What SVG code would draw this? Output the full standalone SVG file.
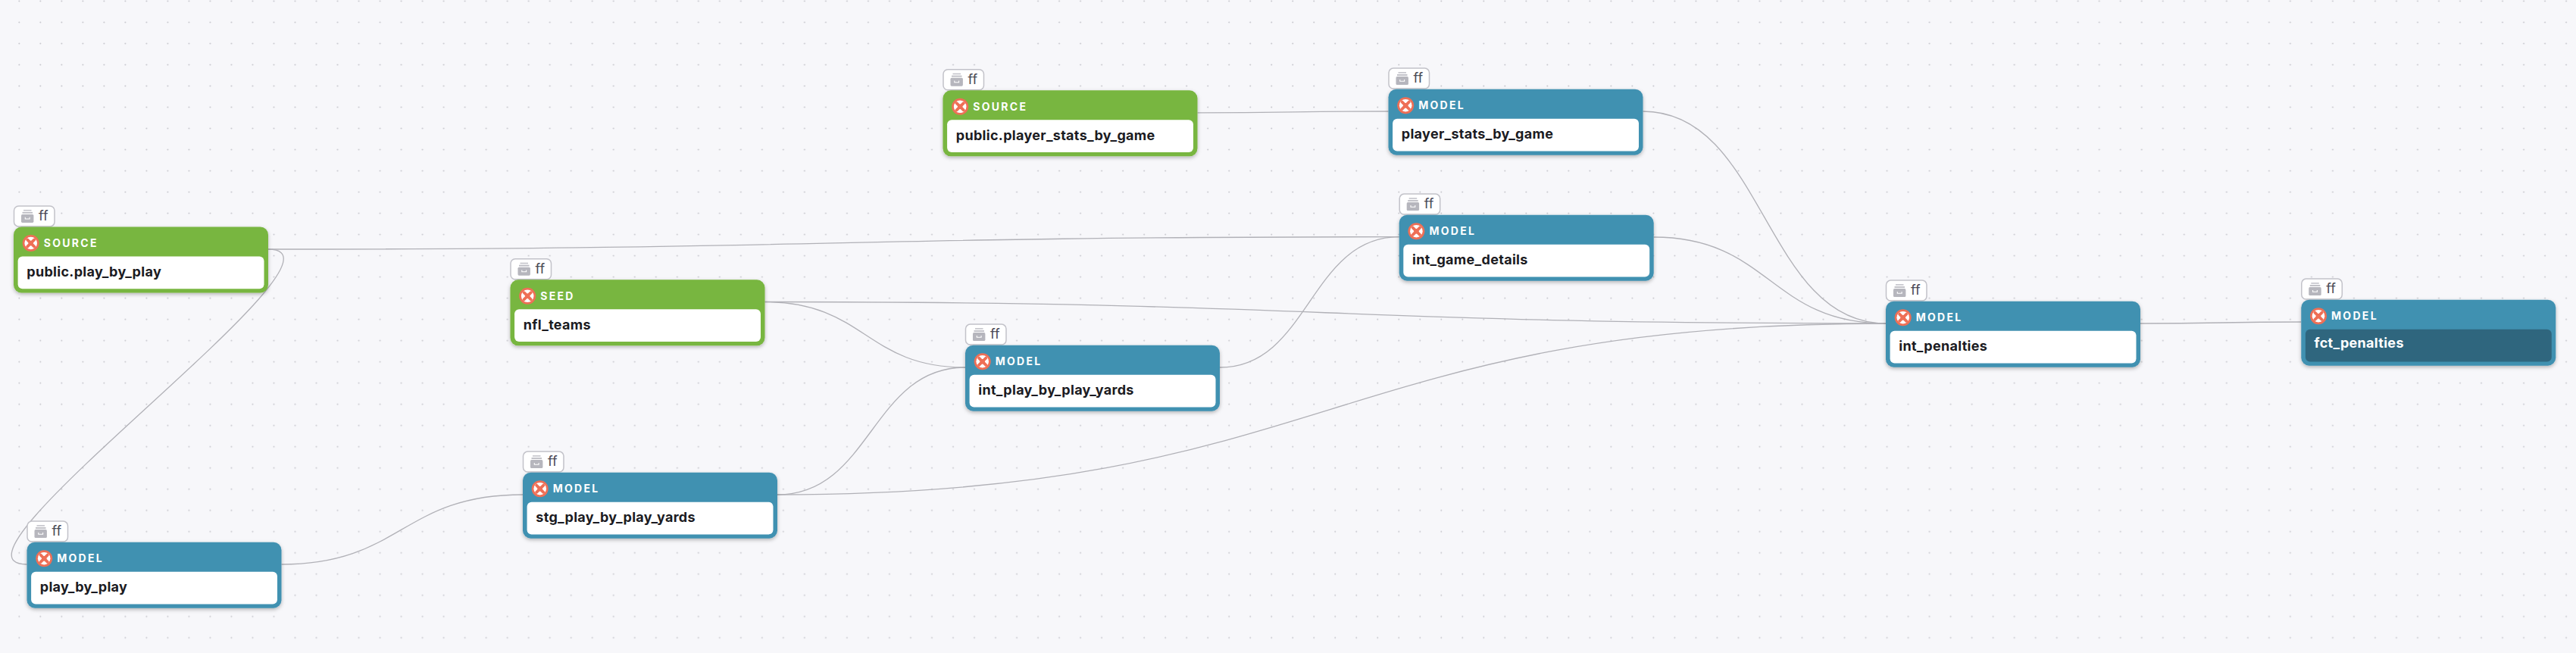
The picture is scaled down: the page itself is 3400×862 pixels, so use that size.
<svg xmlns="http://www.w3.org/2000/svg" width="3400" height="862" viewBox="0 0 3400 862">
<style>
.bg{fill:#f7f7fa}
.dot{fill:#c6c6cc}
.edge{fill:none;stroke:#b1b1b7;stroke-width:1.3}
.tag{fill:#fff;stroke:#c2c2c9;stroke-width:1.5}
.tagtxt{font:400 18px Inter,"Liberation Sans",sans-serif;fill:#4a4a55}
.body{filter:url(#sh)}
.source{fill:#78b63f}
.model{fill:#4191b1}
.inner{fill:var(--inner,#fff)}
.kind{font:700 14px Inter,"Liberation Sans",sans-serif;letter-spacing:2.3px;fill:#fff}
.title{font:700 18px Inter,"Liberation Sans",sans-serif;letter-spacing:.3px;fill:#1b1b22}
.selected{--inner:#2f667e}
.selected .title{fill:#fff}
</style>
<defs>
<pattern id="dots" width="28.014" height="28.014" patternUnits="userSpaceOnUse"><circle class="dot" cx="25.4" cy="1.4" r="1"/></pattern>
<filter id="sh" x="-5%" y="-10%" width="110%" height="125%"><feDropShadow dx="0" dy="2" stdDeviation="2.5" flood-color="#000" flood-opacity=".28"/></filter>
<g id="status">
<circle r="11" fill="#ee6f56"/><circle r="8.3" fill="#fff"/>
<path d="M-4.6-4.6L4.6 4.6M4.6-4.6L-4.6 4.6" stroke="#ee6f56" stroke-width="3.8" stroke-linecap="round"/>
<circle r="3.2" fill="#ee6f56"/>
</g>
<g id="tagicon" fill="#b6b6bd">
<rect x="3" y="0" width="10.5" height="1.6" fill="#c4c4ca"/>
<rect x="1.5" y="3" width="13.5" height="1.8" fill="#bcbcc3"/>
<rect x="0" y="6" width="16.4" height="11" rx="1.6"/>
<path d="M5.3 9.8v2.3h5.8V9.8" fill="none" stroke="#fff" stroke-width="1.1"/>
</g>
<g id="tagbox">
<rect class="tag" x="0.5" y="-27.6" width="53.5" height="27" rx="6"/>
<use href="#tagicon" x="10" y="-22.6"/>
<text class="tagtxt" x="33" y="-8.6">ff</text>
</g>
<g id="frame">
<use href="#tagbox"/>
<rect class="body" width="336" height="87" rx="10.5"/>
<rect class="inner" x="5.6" y="39" width="324.9" height="42.7" rx="6"/>
<use href="#status" x="22.7" y="21.5"/>
</g>
</defs>
<rect class="bg" width="3400" height="862"/>
<rect fill="url(#dots)" width="3400" height="862"/>
<g id="connectors">
<path class="edge" d="M354 329C1100 329 1100 312.7 1846.7 312.7"/>
<path class="edge" d="M354 329C489 329 -99.5 745 35.5 745"/>
<path class="edge" d="M371.5 745C530 745 530 653 690 653"/>
<path class="edge" d="M1026 653C1150 653 1150 485 1274 485"/>
<path class="edge" d="M1026 653C1757 653 1757 427 2489 427"/>
<path class="edge" d="M1009.5 398.5C1142 398.5 1142 485 1274 485"/>
<path class="edge" d="M1009.5 398.5C1749 398.5 1749 427 2489 427"/>
<path class="edge" d="M1610 485C1728 485 1728 312.7 1846.7 312.7"/>
<path class="edge" d="M1580.5 148.8C1706 148.8 1706 147 1832.5 147"/>
<path class="edge" d="M2168.5 147C2329 147 2329 427 2489 427"/>
<path class="edge" d="M2182.7 313C2336 313 2336 427 2489 427"/>
<path class="edge" d="M2825 427C2931 427 2931 425 3037.3 425"/>
</g>
<g id="node-source-play_by_play" class="source" transform="translate(18 299.5)"><use href="#frame"/><text class="kind" x="39.7" y="26.5">SOURCE</text><text class="title" x="17.3" y="65.5">public.play_by_play</text></g>
<g id="node-seed-nfl_teams" class="source" transform="translate(673.5 369.3)"><use href="#frame"/><text class="kind" x="39.7" y="26.5">SEED</text><text class="title" x="17.3" y="65.5">nfl_teams</text></g>
<g id="node-source-player_stats_by_game" class="source" transform="translate(1244.5 119.3)"><use href="#frame"/><text class="kind" x="39.7" y="26.5">SOURCE</text><text class="title" x="17.3" y="65.5">public.player_stats_by_game</text></g>
<g id="node-player_stats_by_game" class="model" transform="translate(1832.5 117.7)"><use href="#frame"/><text class="kind" x="39.7" y="26.5">MODEL</text><text class="title" x="17.3" y="65.5">player_stats_by_game</text></g>
<g id="node-int_game_details" class="model" transform="translate(1846.7 283.7)"><use href="#frame"/><text class="kind" x="39.7" y="26.5">MODEL</text><text class="title" x="17.3" y="65.5">int_game_details</text></g>
<g id="node-int_play_by_play_yards" class="model" transform="translate(1274 455.7)"><use href="#frame"/><text class="kind" x="39.7" y="26.5">MODEL</text><text class="title" x="17.3" y="65.5">int_play_by_play_yards</text></g>
<g id="node-stg_play_by_play_yards" class="model" transform="translate(690 623.7)"><use href="#frame"/><text class="kind" x="39.7" y="26.5">MODEL</text><text class="title" x="17.3" y="65.5">stg_play_by_play_yards</text></g>
<g id="node-play_by_play" class="model" transform="translate(35.5 715.7)"><use href="#frame"/><text class="kind" x="39.7" y="26.5">MODEL</text><text class="title" x="17.3" y="65.5">play_by_play</text></g>
<g id="node-int_penalties" class="model" transform="translate(2489 397.7)"><use href="#frame"/><text class="kind" x="39.7" y="26.5">MODEL</text><text class="title" x="17.3" y="65.5">int_penalties</text></g>
<g id="node-fct_penalties" class="model selected" transform="translate(3037.3 395.7)"><use href="#frame"/><text class="kind" x="39.7" y="26.5">MODEL</text><text class="title" x="17.3" y="63.5">fct_penalties</text></g>
</svg>
